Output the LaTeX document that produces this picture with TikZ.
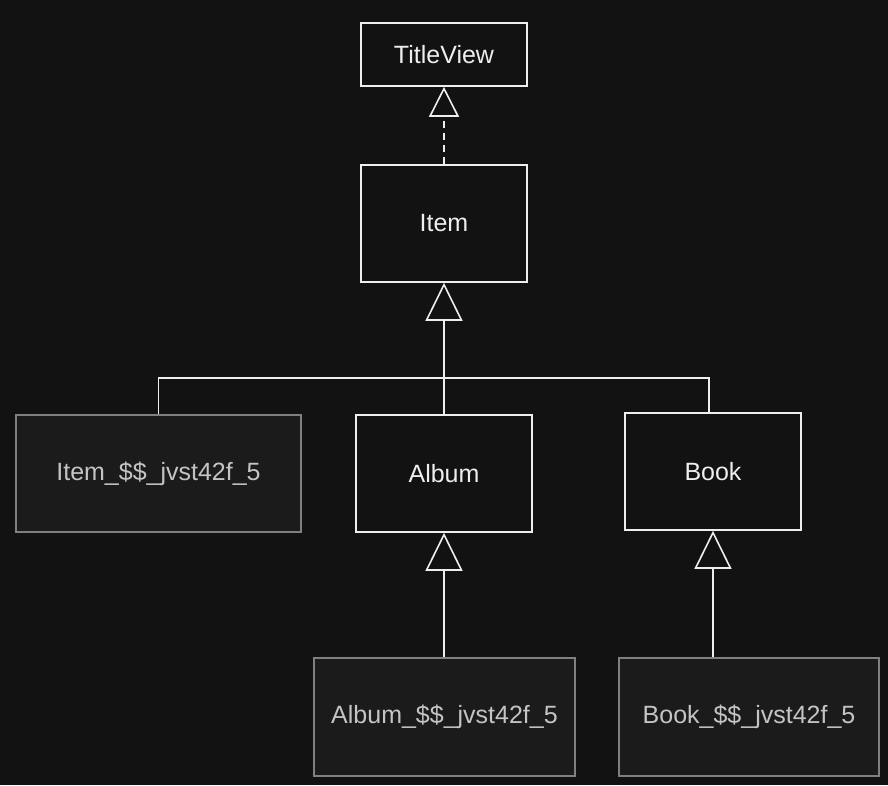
\documentclass[tikz,border=0pt]{standalone}
\usepackage{fontspec}
\setmainfont{Liberation Sans}
\usetikzlibrary{arrows.meta, positioning}
\definecolor{canvasbg}{HTML}{121212}
\definecolor{classline}{HTML}{EEEEEE}
\definecolor{proxyfill}{HTML}{1B1B1B}
\definecolor{proxyline}{HTML}{808080}
\definecolor{proxytext}{HTML}{C4C4C4}

\begin{document}
\begin{tikzpicture}[x=1pt, y=-1pt, line join=miter,
  classbox/.style={draw=classline, fill=canvasbg, text=classline, line width=1.6pt,
    inner sep=0pt, font=\fontsize{25}{30}\selectfont},
  proxybox/.style={classbox, draw=proxyline, fill=proxyfill, text=proxytext},
  inherits/.style={draw=classline, line width=1.6pt,
    -{Triangle[fill=canvasbg, width=37pt, length=38pt]}},
  realizes/.style={draw=classline, line width=1.6pt, dash pattern=on 7pt off 5pt,
    -{Triangle[fill=canvasbg, width=30pt, length=30pt]}}]

% Canvas
\useasboundingbox[fill=canvasbg] (0,0) rectangle (888,785);

% Interface and base class
\node[classbox, minimum width=166pt, minimum height=63pt] (TitleView) at (444,54.5) {TitleView};
\node[classbox, minimum width=166pt, minimum height=117pt] (Item) at (444,223.5) {Item};

% Subclasses
\node[proxybox, minimum width=285pt, minimum height=117pt] (ItemProxy) at (158.5,473.5) {Item\_\$\$\_jvst42f\_5};
\node[classbox, minimum width=176pt, minimum height=117pt] (Album) at (444,473.5) {Album};
\node[classbox, minimum width=176pt, minimum height=117pt] (Book) at (713,471.5) {Book};

% Proxies of the subclasses
\node[proxybox, minimum width=261pt, minimum height=118pt] (AlbumProxy) at (444.5,717) {Album\_\$\$\_jvst42f\_5};
\node[proxybox, minimum width=260pt, minimum height=118pt] (BookProxy) at (749,717) {Book\_\$\$\_jvst42f\_5};

% Realization
\draw[realizes] (Item.north) -- (TitleView.south);

% Shared generalization tree under Item
\coordinate (joint) at (444,378);
\draw[inherits] (ItemProxy.north) |- (joint) -- (Item.south);
\draw[draw=classline, line width=1.6pt] (Album.north) -- (joint);
\draw[draw=classline, line width=1.6pt] ([xshift=-4pt]Book.north) |- (joint);

% Proxy generalizations
\draw[inherits] (AlbumProxy.north -| Album.south) -- (Album.south);
\draw[inherits] (BookProxy.north -| Book.south) -- (Book.south);
\end{tikzpicture}
\end{document}
